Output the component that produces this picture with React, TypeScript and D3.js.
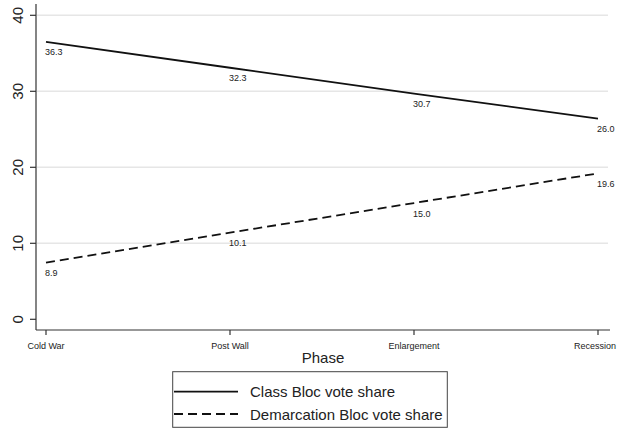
import React from "react";
import * as d3 from "d3";

const phases = ["Cold War", "Post Wall", "Enlargement", "Recession"];
const classValues = [36.3, 32.3, 30.7, 26.0];
const demarcationValues = [8.9, 10.1, 15.0, 19.6];
// fitted line values
const classFit = [36.5, 33.1, 29.7, 26.4];
const demarcationFit = [7.45, 11.4, 15.3, 19.2];
const yTicks = [0, 10, 20, 30, 40];
const gridTicks = [10, 20, 30, 40];
const legendLabels = ["Class Bloc vote share", "Demarcation Bloc vote share"];

const W = 618;
const H = 429;
const FONT = "'Liberation Sans', Arial, Helvetica, sans-serif";

export default function App() {
  const x = d3.scalePoint<string>().domain(phases).range([46, 598]);
  const y = d3.scaleLinear().domain([0, 40]).range([319.3, 15.3]);
  const line = d3
    .line<number>()
    .x((_, i) => x(phases[i]) as number)
    .y((d) => y(d));

  const axisY = 330;
  const axisX = 36;

  const series = [
    { fit: classFit, vals: classValues, dash: undefined as string | undefined },
    { fit: demarcationFit, vals: demarcationValues, dash: "9 5" },
  ];

  return (
    <svg
      width={W}
      height={H}
      style={{ position: "absolute", left: 0, top: 0, background: "#fff" }}
      fontFamily={FONT}
    >
      <rect x={0} y={0} width={W} height={H} fill="#fff" />
      {gridTicks.map((t) => (
        <line key={t} x1={axisX + 1} x2={608} y1={y(t)} y2={y(t)} stroke="#e6e6e6" strokeWidth={1.5} />
      ))}
      {/* y axis */}
      <line x1={axisX} x2={axisX} y1={4} y2={axisY} stroke="#333" strokeWidth={1.2} />
      {yTicks.map((t) => (
        <g key={t}>
          <line x1={axisX - 6} x2={axisX} y1={y(t)} y2={y(t)} stroke="#333" strokeWidth={1.2} />
          <text
            transform={`translate(17.5,${y(t)}) rotate(-90)`}
            textAnchor="middle"
            dominantBaseline="central"
            fontSize={15}
            fill="#222"
          >
            {t}
          </text>
        </g>
      ))}
      {/* x axis */}
      <line x1={axisX} x2={610} y1={axisY} y2={axisY} stroke="#333" strokeWidth={1.2} />
      {phases.map((p) => {
        const last = p === "Recession";
        return (
          <g key={p}>
            <line x1={x(p)} x2={x(p)} y1={axisY} y2={axisY + 5} stroke="#333" strokeWidth={1.2} />
            <text
              x={last ? 616 : (x(p) as number)}
              y={348.5}
              textAnchor={last ? "end" : "middle"}
              fontSize={9}
              fill="#222"
            >
              {p}
            </text>
          </g>
        );
      })}
      <text x={323} y={363} textAnchor="middle" fontSize={15} fill="#222">
        Phase
      </text>
      {/* lines */}
      {series.map((s, si) => (
        <g key={si}>
          <path d={line(s.fit) || ""} fill="none" stroke="#111" strokeWidth={1.8} strokeDasharray={s.dash} />
          {s.vals.map((v, i) => (
            <text
              key={i}
              x={(x(phases[i]) as number) - 1}
              y={y(s.fit[i]) + 13.5}
              fontSize={9}
              fill="#222"
            >
              {v.toFixed(1)}
            </text>
          ))}
        </g>
      ))}
      {/* legend */}
      <rect x={172.7} y={371.7} width={274.6} height={55.6} fill="#fff" stroke="#444" strokeWidth={1} />
      {legendLabels.map((l, i) => {
        const ly = 391.7 + i * 22.3;
        return (
          <g key={l}>
            <line
              x1={174}
              x2={238}
              y1={ly}
              y2={ly}
              stroke="#111"
              strokeWidth={1.8}
              strokeDasharray={i === 1 ? "9 5" : undefined}
            />
            <text x={250} y={ly} dominantBaseline="central" fontSize={15} fill="#222">
              {l}
            </text>
          </g>
        );
      })}
    </svg>
  );
}
